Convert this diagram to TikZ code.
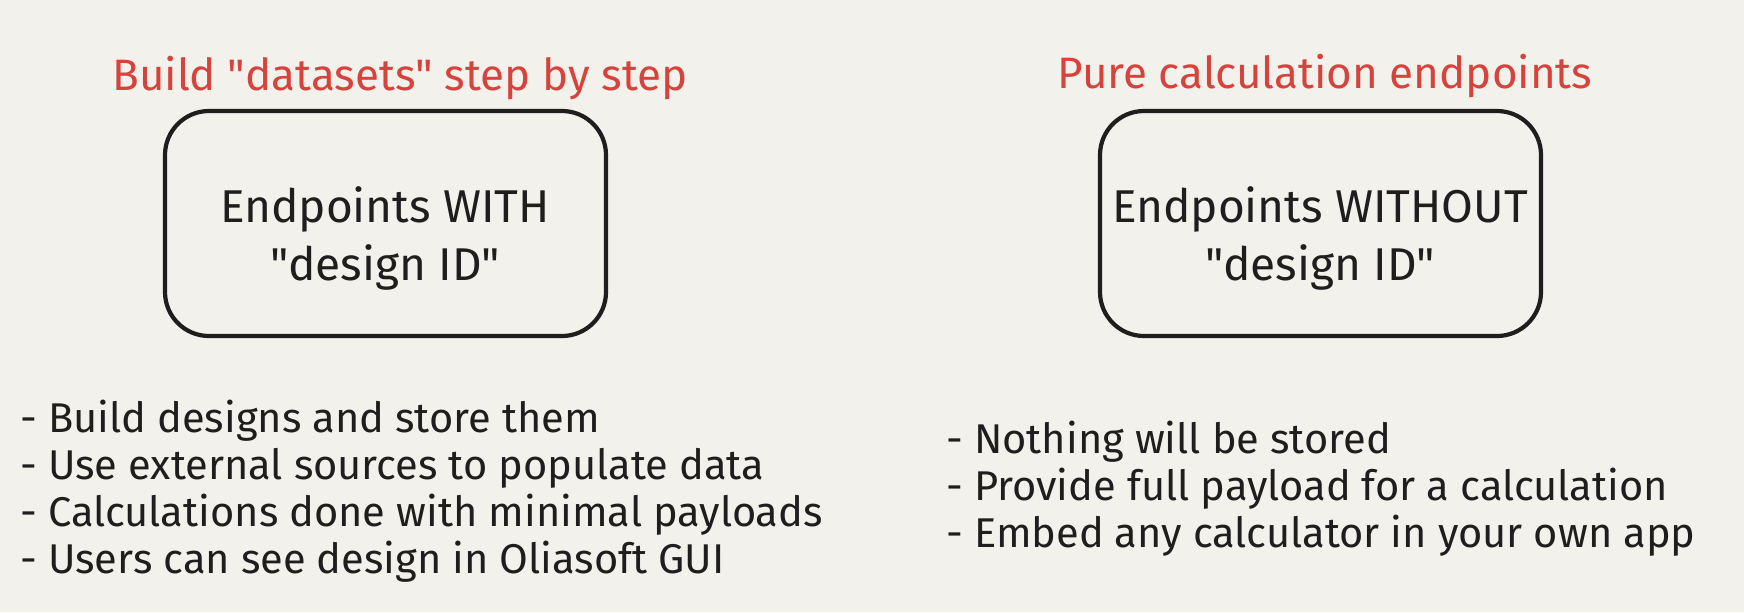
\documentclass[tikz,border=0pt]{standalone}
\usepackage{fontspec}
\setmainfont{Fira Sans}
\definecolor{bg}{RGB}{242,241,235}
\definecolor{redt}{RGB}{214,67,60}
\definecolor{ink}{RGB}{30,30,30}
\newcommand{\dq}{\textquotedbl}
\begin{document}
\begin{tikzpicture}[x=0.5pt,y=-0.5pt,
  title/.style={text=redt,font=\fontsize{22}{26}\selectfont,inner sep=0pt},
  box/.style={draw=ink,line width=2.1pt,rounded corners=22pt,minimum width=220.5pt,minimum height=112.5pt,inner sep=0pt},
  boxtext/.style={text=ink,align=center,font=\fontsize{23}{29}\selectfont,inner sep=0pt},
  listtext/.style={text=ink,align=left,font=\fontsize{20.8}{23.5}\selectfont,inner sep=0pt,anchor=west}]
\fill[bg] (0,0) rectangle (1744,612);
\useasboundingbox (0,0) rectangle (1744,612);
\node[title] (h1) at (400,78) {Build \dq datasets\dq{} step by step};
\node[title] (h2) at (1325,76) {Pure calculation endpoints};
\node[box] (b1) at (385.5,223.5) {};
\node[box] (b2) at (1320.5,223.5) {};
\node[boxtext] (t1) at (385,238) {Endpoints WITH\\\dq design ID\dq};
\node[boxtext] (t2) at (1320,238) {Endpoints WITHOUT\\\dq design ID\dq};
\node[listtext] (l1) at (20,491) {- Build designs and store them\\- Use external sources to populate data\\- Calculations done with minimal payloads\\- Users can see design in Oliasoft GUI};
\node[listtext] (l2) at (946,489) {- Nothing will be stored\\- Provide full payload for a calculation\\- Embed any calculator in your own app};
\end{tikzpicture}
\end{document}
